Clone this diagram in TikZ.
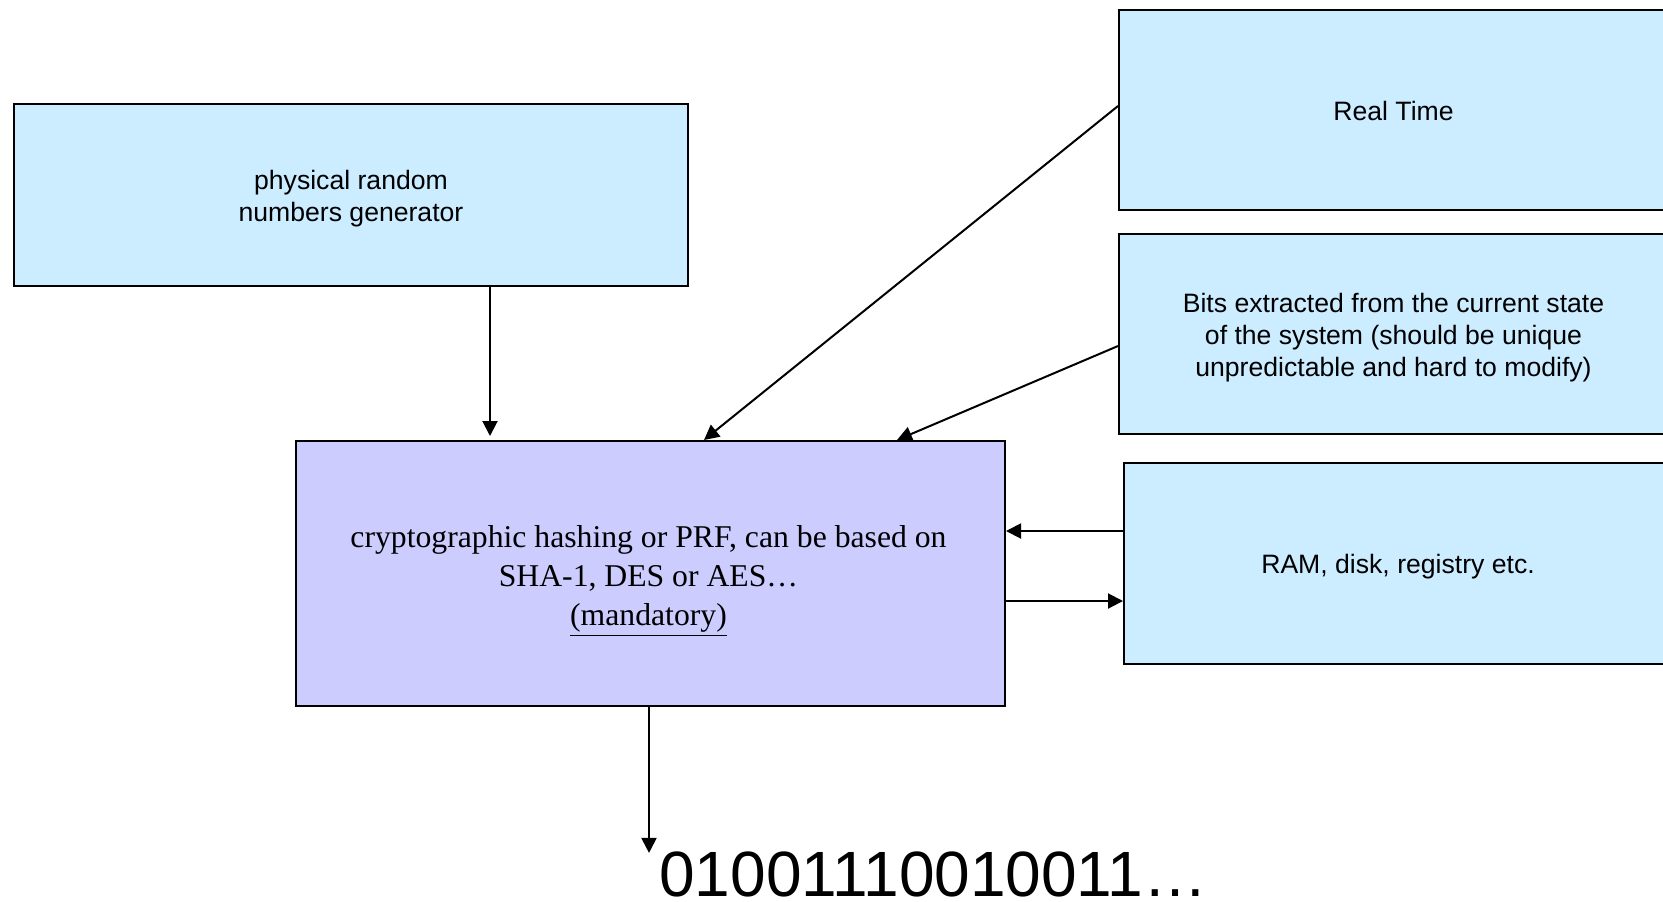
\documentclass[tikz,border=0pt]{standalone}
\usepackage{fontspec}
\setmainfont{Liberation Serif}
\newfontfamily\arialfont{Liberation Sans}
\usetikzlibrary{arrows.meta}

\definecolor{sourceblue}{HTML}{CCECFF}
\definecolor{mixviolet}{HTML}{CCCCFF}

\tikzset{
  srcbox/.style={draw=black, line width=1pt, fill=sourceblue, inner sep=0pt},
  mixbox/.style={draw=black, line width=1pt, fill=mixviolet, inner sep=0pt},
  srctext/.style={inner sep=0pt, align=center,
    font=\arialfont\fontsize{13.3pt}{16pt}\selectfont},
  mixtext/.style={inner sep=0pt, align=center,
    font=\fontsize{15.85pt}{19.4pt}\selectfont},
  flow/.style={line width=1pt, -{Triangle[length=7.5pt,width=7.5pt]}}
}

\begin{document}
\begin{tikzpicture}[x=0.5pt, y=-0.5pt]
  \clip (0,0) rectangle (1663,901);
  \fill[white] (0,0) rectangle (1663,901);

  % entropy sources
  \node[srcbox, minimum width=337pt, minimum height=91pt] (phys) at (351,195) {};
  \node[srctext] (physlabel) at ([yshift=-2pt]phys.center)
    {physical random\\numbers generator};

  \node[srcbox, minimum width=274.5pt, minimum height=100pt] (rt) at (1393.5,110) {};
  \node[srctext] (rtlabel) at ([yshift=-0.7pt]rt.center) {Real Time};

  \node[srcbox, minimum width=274.5pt, minimum height=100pt] (bits) at (1393.5,334) {};
  \node[srctext] (bitslabel) at ([yshift=-2pt]bits.center)
    {Bits extracted from the current state\\of the system (should be unique\\unpredictable and hard to modify)};

  \node[srcbox, minimum width=274pt, minimum height=100.5pt] (ram) at (1398,563.5) {};
  \node[srctext] (ramlabel) at ([yshift=-1.5pt]ram.center) {RAM, disk, registry etc.};

  % mixing function
  \node[mixbox, minimum width=354.5pt, minimum height=132.5pt] (mix) at (650.5,573.5) {};
  \node[mixtext] (mixlabel) at ([xshift=-1pt, yshift=-3.7pt]mix.center)
    {cryptographic hashing or PRF, can be based on\\SHA-1, DES or AES…\\\underline{(mandatory)}};

  % output bit stream
  \node[anchor=base west, inner sep=0pt, font=\arialfont\fontsize{32pt}{36pt}\selectfont]
    (out) at (659,896) {01001110010011…};

  % connectors
  \draw[flow, shorten >=2pt] ([xshift=69.5pt]phys.south) -- ([xshift=-80.25pt]mix.north);
  \draw[flow] ([yshift=2pt]rt.west) -- ([xshift=26.75pt]mix.north);
  \draw[flow] ([yshift=-6pt]bits.west) -- ([xshift=123.25pt]mix.north);
  \draw[flow] ([yshift=16.25pt]ram.west) -- ([yshift=16.25pt]ram.west -| mix.east);
  \draw[flow] ([yshift=-18.75pt]ram.west -| mix.east) -- ([yshift=-18.75pt]ram.west);
  \draw[flow] ([xshift=-0.75pt]mix.south) -- ([xshift=-0.75pt, yshift=-1pt]mix.south |- out.north);
\end{tikzpicture}
\end{document}
